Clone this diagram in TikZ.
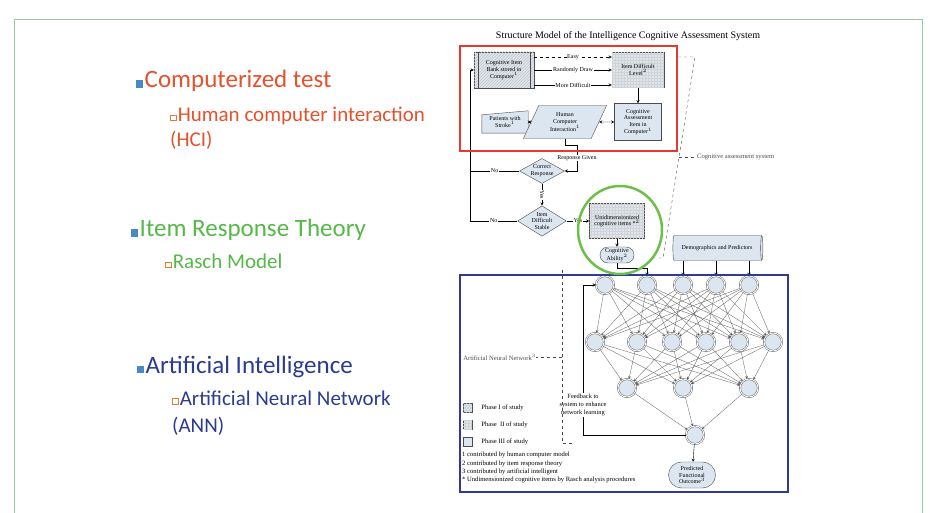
\documentclass[tikz,border=0pt]{standalone}
\usepackage{fontspec}
\setmainfont{Liberation Serif}
\newfontfamily\slidefont{Carlito}
\usetikzlibrary{shapes,patterns,positioning,backgrounds}

\definecolor{redtxt}{HTML}{E4512B}
\definecolor{greentxt}{HTML}{55B848}
\definecolor{bluetxt}{HTML}{2B3A92}
\definecolor{bulblue}{HTML}{4A89C9}
\definecolor{subor}{HTML}{E07B39}
\definecolor{framegreen}{HTML}{8DD09C}
\definecolor{redbox}{HTML}{E8392A}
\definecolor{greencirc}{HTML}{6CC04A}
\definecolor{bluebox}{HTML}{2E3A94}
\definecolor{boxblue}{HTML}{DCE6F0}

\newcommand{\mainbul}{\textcolor{bulblue}{\rule{7pt}{7.5pt}}\hspace{1.5pt}}
\newcommand{\subbul}{\raisebox{1.5pt}{\textcolor{subor}{\fboxsep=0pt\fboxrule=0.8pt\fbox{\rule{0pt}{5pt}\hspace{5pt}}}}\hspace{1pt}}

\begin{document}
\begin{tikzpicture}[x=1pt,y=-1pt,>=stealth,
  slide/.style={anchor=base west, inner sep=0pt, font=\slidefont\fontsize{25}{30}\selectfont},
  subslide/.style={slide, font=\slidefont\fontsize{21}{25}\selectfont},
  box/.style={draw=gray!60!black, fill=boxblue, align=center, inner sep=1pt, line width=0.4pt, font=\fontsize{6}{6.8}\selectfont},
  hatchbox/.style={box, postaction={pattern=north east lines, pattern color=gray!45}},
  gridbox/.style={box, postaction={pattern=grid, pattern color=gray!35}},
  neuron/.style={circle, draw=gray!60!black, double=white, double distance=1pt, fill=boxblue, minimum size=18pt, inner sep=0pt},
  lbl/.style={fill=white, inner sep=0.6pt, font=\fontsize{6}{6.5}\selectfont},
  flow/.style={->, line width=0.4pt},
  wire/.style={->, gray!70!black, line width=0.3pt},
  small/.style={inner sep=0pt, anchor=west, font=\fontsize{6.6}{8.3}\selectfont}]
\useasboundingbox (0,0) rectangle (932,513);
\draw[framegreen, line width=1pt] (14,513) -- (14,20) -- (922,20) -- (922,513);

\node[slide, text=redtxt] (ct) at (136,88) {\mainbul Computerized test};
\node[subslide, text=redtxt] (hci1) at (170,122) {\subbul Human computer interaction};
\node[subslide, text=redtxt] (hci2) at (170,147) {(HCI)};
\node[slide, text=greentxt] (irt) at (131,237) {\mainbul Item Response Theory};
\node[subslide, text=greentxt] (rasch) at (165,269) {\subbul Rasch Model};
\node[slide, text=bluetxt] (ai) at (137,373) {\mainbul Artificial Intelligence};
\node[subslide, text=bluetxt] (ann1) at (172,405) {\subbul Artificial Neural Network};
\node[subslide, text=bluetxt] (ann2) at (172,432) {(ANN)};

\node[font=\fontsize{10}{11}\selectfont] (title) at (628,36) {Structure Model of the Intelligence Cognitive Assessment System};

\node[hatchbox, minimum width=60pt, minimum height=36pt] (bank) at (504,70) {Cognitive Item\\Bank stored in\\Computer$^1$};
\draw[gray!60!black, line width=0.4pt] ([xshift=4pt]bank.north west) -- ([xshift=4pt]bank.south west)
  ([xshift=-4pt]bank.north east) -- ([xshift=-4pt]bank.south east);
\node[gridbox, minimum width=52pt, minimum height=35pt] (level) at (638,70) {Item Difficult\\Level$^2$};
\node[box, minimum width=47pt, minimum height=37pt] (cogitem) at (638,122) {Cognitive\\Assessment\\Item in\\Computer$^1$};
\node[box, trapezium, trapezium left angle=65, trapezium right angle=115, minimum height=33pt, inner sep=0pt] (hci) at (565,122) {Human\\Computer\\Interaction$^1$};
\node[align=center, inner sep=0pt, minimum width=46pt, minimum height=22pt, font=\fontsize{6}{6.8}\selectfont] (patient) at (505,122) {Patients with\\Stroke$^1$};
\begin{scope}[on background layer]
\path[draw=gray!60!black, fill=boxblue, line width=0.4pt] (patient.south west) -- (patient.south east) -- (patient.north east) -- ([yshift=-4pt]patient.north west) -- cycle;
\end{scope}

\draw[flow, dashed] ([yshift=13pt]bank.east) -- node[lbl]{Easy} ([yshift=13pt]level.west);
\draw[flow] (bank.east) -- node[lbl]{Randomly Draw} (level.west);
\draw[flow] ([yshift=-15pt]bank.east) -- node[lbl]{More Difficult} ([yshift=-15pt]level.west);
\draw[flow] (level) -- (cogitem);
\draw[flow, <->] (patient) -- (hci);
\draw[flow, <->] (hci) -- (cogitem);

\node[box, diamond, aspect=1.8, minimum width=45pt, minimum height=25pt, inner sep=0pt] (correct) at (542,171) {Correct\\Response};
\node[box, diamond, aspect=1.6, minimum width=45pt, minimum height=28pt, inner sep=0pt] (stable) at (542,221) {Item\\Difficult\\Stable};
\node[gridbox, minimum width=55pt, minimum height=35pt] (unidim) at (617,221) {Unidimensionized\\cognitive items *$^2$};
\node[box, rounded rectangle, minimum width=35pt, minimum height=16pt, inner sep=0.5pt] (ability) at (617,255) {Cognitive\\Ability$^2$};
\node[box, cylinder, shape border rotate=0, shape aspect=0.3, minimum width=25pt, minimum height=90pt] (demo) at (717,248) {Demographics and Predictors};

\coordinate (rg) at (577,145);
\coordinate (loop) at (470,221);
\draw[flow] (hci.south) |- (rg) -- node[lbl]{Response Given} (rg |- correct.east) -- (correct.east);
\draw[flow] (correct) -- node[lbl, rotate=-90]{Yes} (stable);
\draw[flow] (stable) -- node[lbl]{Yes} (unidim);
\draw[flow] (unidim) -- (ability);
\draw[line width=0.4pt] (correct.west) -- node[lbl]{No} (correct.west -| loop);
\draw[flow] (stable.west) -- node[lbl]{No} (loop) |- (bank.west);

\foreach \x [count=\i] in {605,647,683,716,749} \node[neuron] (a\i) at (\x,285) {};
\foreach \x [count=\i] in {595,637,672,706,739,773} \node[neuron] (b\i) at (\x,342) {};
\foreach \x [count=\i] in {627,683,749} \node[neuron] (c\i) at (\x,388) {};
\node[neuron] (out) at (695,435) {};
\node[box, rounded rectangle, minimum width=48pt, minimum height=26pt, inner sep=0.5pt] (pfo) at (692,475) {Predicted\\Functional\\Outcome$^3$};

\foreach \i in {1,...,5} \foreach \j in {1,...,6} \draw[wire] (a\i) -- (b\j);
\foreach \i in {1,...,6} \foreach \j in {1,2,3} \draw[wire] (b\i) -- (c\j);
\foreach \i in {1,2,3} \draw[wire] (c\i) -- (out);
\draw[flow] (out) -- (pfo);
\draw[flow] (ability.south) -- ++(0,5) -| (a2.north);
\foreach \i in {3,4,5} \draw[flow] (demo.south -| a\i) -- (a\i.north);

\coordinate (fb) at (583,435);
\draw[flow] (out.west) -- (fb) -- node[pos=0.2, fill=white, inner sep=1pt, align=center, font=\fontsize{6.4}{8}\selectfont]{Feedback to\\system to enhance\\network learning} (fb |- a1.west) -- (a1.west);

\draw[dashed, gray!60!black, line width=0.4pt] (678,57) -- (695,57) -- (663,258) -- (652,258);
\draw[dashed, gray!60!black, line width=0.4pt] (679,157) -- (697,157) node[small] (cas) {Cognitive assessment system};
\draw[dashed, gray!60!black, line width=0.5pt] (562,270) -- (562,443) -- (574,443);
\draw[dashed, gray!60!black, line width=0.5pt] (562,357) -- (536,357) node[small, anchor=east] (annlbl) {Artificial Neural Network$^3$};

\node[hatchbox, minimum size=9pt, inner sep=0pt] (ph1) at (467.5,408) {};
\node[gridbox, minimum size=9pt, inner sep=0pt] (ph2) at (467.5,425) {};
\node[box, minimum size=9pt, inner sep=0pt] (ph3) at (467.5,442) {};
\node[small, right=9pt of ph1] (ph1t) {Phase I of study};
\node[small, right=9pt of ph2] (ph2t) {Phase\ \ II of study};
\node[small, right=9pt of ph3] (ph3t) {Phase III of study};
\node[small, align=left, anchor=north west] (notes) at (462,452) {1 contributed by human computer model\\2 contributed by item response theory\\3 contributed by artificial intelligent\\* Undimensionized cognitive items by Rasch analysis procedures};

\draw[redbox, line width=2.5pt] (460,46) rectangle (677,151);
\draw[bluebox, line width=2.5pt] (460,275) rectangle (788,492);
\draw[greencirc, line width=2.5pt] (620,230) ellipse [x radius=42pt, y radius=44pt];
\end{tikzpicture}
\end{document}
